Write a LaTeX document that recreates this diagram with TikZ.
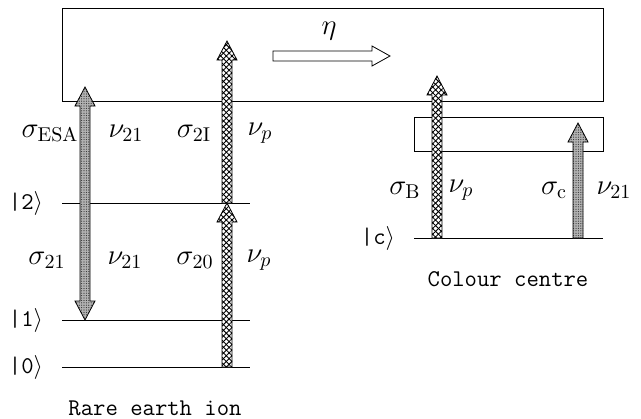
\documentclass[tikz,border=0pt]{standalone}
\usetikzlibrary{patterns.meta}
\newcommand\uparr[3]{(#1-5,#2) -- (#1-5,#3+19) -- (#1-10,#3+19) -- (#1,#3) -- (#1+10,#3+19) -- (#1+5,#3+19) -- (#1+5,#2) -- cycle}
\newcommand\dblarr[3]{(#1,#2) -- (#1-10,#2+19) -- (#1-5,#2+19) -- (#1-5,#3-19) -- (#1-10,#3-19) -- (#1,#3) -- (#1+10,#3-19) -- (#1+5,#3-19) -- (#1+5,#2+19) -- (#1+10,#2+19) -- cycle}
\newcommand\hatcharr[1]{%
  \fill[white] #1;
  \path[pattern={Lines[angle=45,distance=2pt,line width=0.45pt]}] #1;
  \path[pattern={Lines[angle=-45,distance=2pt,line width=0.45pt]}] #1;
  \draw[arrline] #1;}
\newcommand\dotarr[1]{%
  \fill[gray!60] #1;
  \path[pattern={Dots[distance=1.2pt,radius=0.3pt]},pattern color=black!80] #1;
  \draw[arrline] #1;}
\begin{document}
\begin{tikzpicture}[x=0.5pt,y=-0.5pt,font=\Large,
  boxline/.style={line width=0.45pt},
  level/.style={line width=0.5pt},
  arrline/.style={line width=0.4pt},
  lab/.style={inner sep=0pt},
  ket/.style={inner sep=0pt,font=\large\ttfamily}]
\useasboundingbox (0,0) rectangle (641,418);
% boxes
\draw[boxline] (62,8) rectangle (603,101);
\draw[boxline] (414,117) rectangle (603,151);
% levels
\coordinate (l2a) at (62,203); \coordinate (l2b) at (250,203);
\coordinate (l1a) at (62,320); \coordinate (l1b) at (250,320);
\coordinate (l0a) at (62,367); \coordinate (l0b) at (250,367);
\coordinate (lca) at (414,238); \coordinate (lcb) at (603,238);
\draw[level] (l2a) -- (l2b);
\draw[level] (l1a) -- (l1b);
\draw[level] (l0a) -- (l0b);
\draw[level] (lca) -- (lcb);
% ket labels
\node[ket] (k2) at (26,203) {|2$\rangle$};
\node[ket] (k1) at (26,320) {|1$\rangle$};
\node[ket] (k0) at (26,367) {|0$\rangle$};
\node[ket] (kc) at (378,238) {|c$\rangle$};
% arrows
\dotarr{\dblarr{85}{87}{320}}
\hatcharr{\uparr{227}{203}{41}}
\hatcharr{\uparr{227}{367}{203}}
\hatcharr{\uparr{437}{238}{76}}
\dotarr{\uparr{578}{238}{123}}
% eta arrow
\draw[arrline,fill=white] (273,51) -- (372,51) -- (372,46) -- (390,56) -- (372,66) -- (372,61) -- (273,61) -- cycle;
\node[lab] (eta) at (329,31) {$\eta$};
% labels
\node[lab] (sesa) at (50,133) {$\sigma_{\mathrm{ESA}}$};
\node[lab] (n21a) at (126,133) {$\nu_{21}$};
\node[lab] (s2i) at (194,133) {$\sigma_{2\mathrm{I}}$};
\node[lab] (npa) at (260,133) {$\nu_p$};
\node[lab] (s21) at (47,260) {$\sigma_{21}$};
\node[lab] (n21b) at (125,260) {$\nu_{21}$};
\node[lab] (s20) at (195,260) {$\sigma_{20}$};
\node[lab] (npb) at (259,260) {$\nu_p$};
\node[lab] (sB) at (405,190) {$\sigma_{\mathrm{B}}$};
\node[lab] (npc) at (461,190) {$\nu_p$};
\node[lab] (sc) at (554,190) {$\sigma_{\mathrm{c}}$};
\node[lab] (n21c) at (614,190) {$\nu_{21}$};
\node[lab,font=\large\ttfamily] (rei) at (155,408) {Rare earth ion};
\node[lab,font=\large\ttfamily] (cc) at (508,279) {Colour centre};
\end{tikzpicture}
\end{document}
